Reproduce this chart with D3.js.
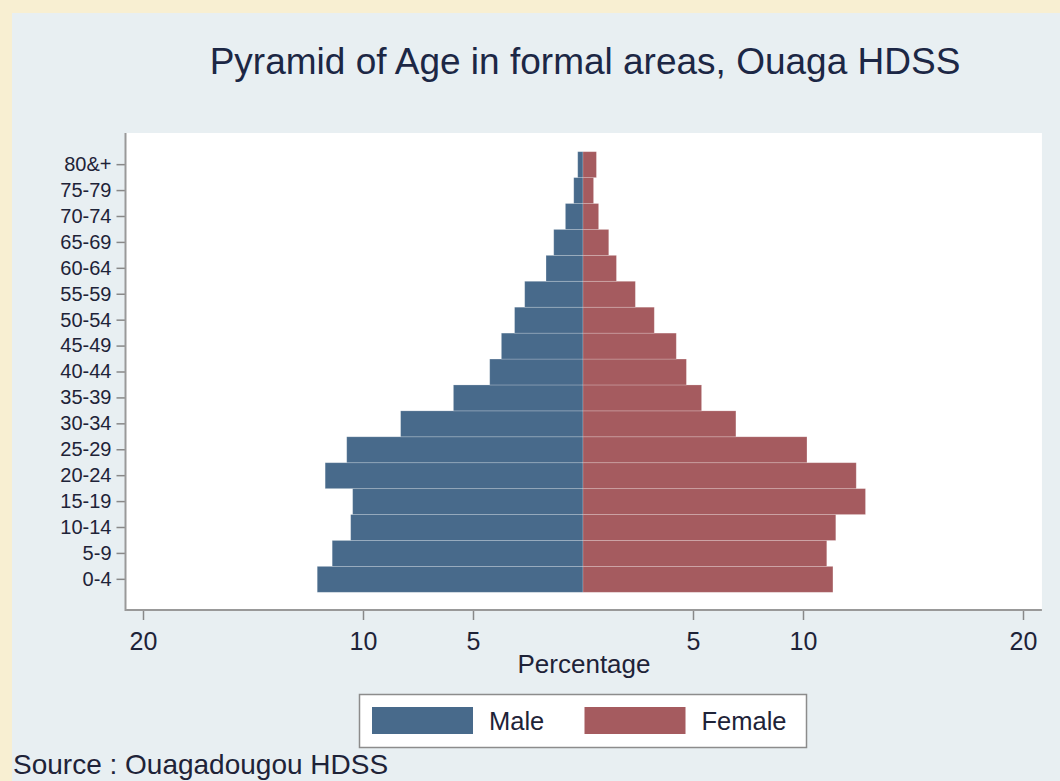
<!DOCTYPE html>
<html>
<head>
<meta charset="utf-8">
<script src="https://cdn.jsdelivr.net/npm/d3@7"></script>
<style>
  html, body { margin: 0; padding: 0; background: #f8efd2; }
  svg { display: block; font-family: "Liberation Sans", Arial, sans-serif; }
</style>
</head>
<body>
<svg width="1060" height="781"></svg>
<script>
// age groups, youngest first
const ages = ['0-4','5-9','10-14','15-19','20-24','25-29','30-34','35-39','40-44',
              '45-49','50-54','55-59','60-64','65-69','70-74','75-79','80&+'];
const male   = [12.08, 11.40, 10.56, 10.47, 11.72, 10.74, 8.29, 5.89, 4.24,
                3.71, 3.11, 2.65, 1.68, 1.33, 0.80, 0.42, 0.24];
const female = [11.36, 11.08, 11.49, 12.84, 12.42, 10.18, 6.95, 5.39, 4.70,
                4.24, 3.24, 2.38, 1.52, 1.17, 0.71, 0.48, 0.61];
const xTicks = [-20, -10, -5, 5, 10, 20];
const seriesNames = ['Male', 'Female'];
const seriesColors = ['#486a8b', '#a55b5f'];

const svg = d3.select('svg');
const ink = '#1e2338';

// light panel
svg.append('rect').attr('x', 12).attr('y', 13).attr('width', 1048).attr('height', 768)
   .attr('fill', '#e8eff2');

svg.append('text').attr('x', 585).attr('y', 74)
   .attr('text-anchor', 'middle').attr('font-size', 37).attr('fill', '#1c2745')
   .text('Pyramid of Age in formal areas, Ouaga HDSS');

const x = d3.scaleLinear().domain([-20, 20]).range([143, 1023]);
const y = d3.scaleBand().domain(ages.slice().reverse()).range([151.7, 592.3]).padding(0);

const plotTop = 133, plotBottom = 610;

// white plot region
svg.append('rect')
   .attr('x', x(-20.77)).attr('y', plotTop)
   .attr('width', x(20.86) - x(-20.77)).attr('height', plotBottom - plotTop)
   .attr('fill', '#ffffff');

const rows = ages.map((a, i) => ({age: a, m: male[i], f: female[i]}));

// bars
svg.append('g').selectAll('rect.m')
   .data(rows).join('rect')
   .attr('x', d => x(-d.m)).attr('y', d => y(d.age))
   .attr('width', d => x(0) - x(-d.m)).attr('height', y.bandwidth())
   .attr('fill', seriesColors[0])
   .attr('stroke', '#ffffff').attr('stroke-opacity', 0.25).attr('stroke-width', 0.8);

svg.append('g').selectAll('rect.f')
   .data(rows).join('rect')
   .attr('x', x(0)).attr('y', d => y(d.age))
   .attr('width', d => x(d.f) - x(0)).attr('height', y.bandwidth())
   .attr('fill', seriesColors[1])
   .attr('stroke', '#ffffff').attr('stroke-opacity', 0.25).attr('stroke-width', 0.8);

// x axis
const xAxis = svg.append('g').attr('transform', `translate(0,${plotBottom})`)
   .call(d3.axisBottom(x).tickValues(xTicks).tickFormat(d => Math.abs(d))
         .tickSize(10).tickPadding(12).tickSizeOuter(0));
xAxis.select('.domain').remove();
xAxis.append('line').attr('x1', x(-20.77)).attr('x2', x(20.86))
     .attr('stroke', '#999').attr('stroke-width', 2);
xAxis.selectAll('.tick line').attr('stroke', '#888').attr('stroke-width', 1.5);
xAxis.selectAll('.tick text').attr('font-size', 25).attr('fill', ink)
     .attr('font-family', '"Liberation Sans", Arial, sans-serif');

svg.append('text').attr('x', 584).attr('y', 673)
   .attr('text-anchor', 'middle').attr('font-size', 26).attr('fill', ink)
   .text('Percentage');

// y axis
const yAxis = svg.append('g').attr('transform', 'translate(125.5,0)')
   .call(d3.axisLeft(y).tickSize(9).tickPadding(5).tickSizeOuter(0));
yAxis.select('.domain').remove();
yAxis.append('line').attr('y1', plotTop).attr('y2', plotBottom + 1)
     .attr('stroke', '#999').attr('stroke-width', 2);
yAxis.selectAll('.tick line').attr('stroke', '#888').attr('stroke-width', 1.5);
yAxis.selectAll('.tick text').attr('font-size', 20).attr('fill', ink)
     .attr('font-family', '"Liberation Sans", Arial, sans-serif');

// legend
const leg = svg.append('g');
leg.append('rect').attr('x', 359.5).attr('y', 694.5).attr('width', 447).attr('height', 53)
   .attr('fill', '#ffffff').attr('stroke', '#8c8c8c').attr('stroke-width', 1.5);
const legX = [372, 584.5];
seriesNames.forEach((name, i) => {
  leg.append('rect').attr('x', legX[i]).attr('y', 707).attr('width', 101).attr('height', 27)
     .attr('fill', seriesColors[i]);
  leg.append('text').attr('x', legX[i] + 117).attr('y', 730)
     .attr('font-size', 25.5).attr('fill', ink).text(name);
});

// source line at the bottom edge
svg.append('text').attr('x', 13).attr('y', 774)
   .attr('font-size', 28).attr('fill', ink)
   .text('Source : Ouagadougou HDSS');
</script>
</body>
</html>
